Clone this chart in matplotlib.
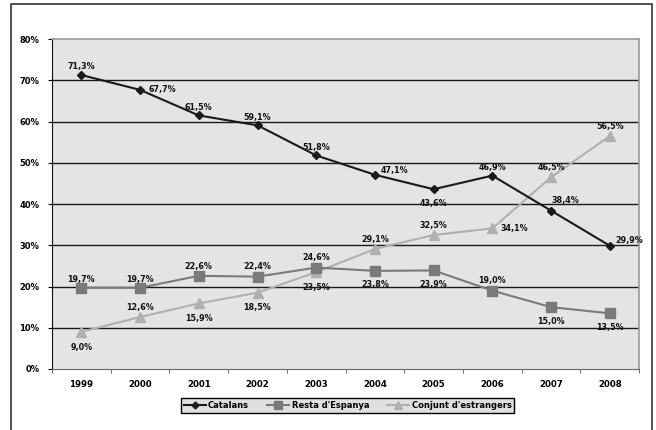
import matplotlib.pyplot as plt
from matplotlib.lines import Line2D

years = ['1999', '2000', '2001', '2002', '2003', '2004', '2005', '2006', '2007', '2008']
catalans = [71.3, 67.7, 61.5, 59.1, 51.8, 47.1, 43.6, 46.9, 38.4, 29.9]
resta = [19.7, 19.7, 22.6, 22.4, 24.6, 23.8, 23.9, 19.0, 15.0, 13.5]
estrangers = [9.0, 12.6, 15.9, 18.5, 23.5, 29.1, 32.5, 34.1, 46.5, 56.5]

# where each label goes relative to its point (points)
pos_cat = [(0, 6), (16, 0), (0, 6), (0, 6), (0, 6), (14, 3), (0, -10), (0, 6), (10, 7), (14, 4)]
pos_res = [(0, 6), (0, 6), (0, 7), (0, 7), (0, 7), (0, -10), (0, -10), (0, 7), (0, -10), (0, -10)]
pos_est = [(0, -11), (0, 7), (0, -11), (0, -11), (0, -11), (0, 7), (0, 7), (16, 0), (0, 7), (0, 7)]

plt.rcParams['font.family'] = 'DejaVu Sans'
plt.rcParams['font.weight'] = 'bold'

fig = plt.figure(figsize=(6.56, 4.30), dpi=100)
ax = fig.add_axes([0.0793, 0.1419, 0.895, 0.767])
ax.set_facecolor('#e4e4e4')

x = range(len(years))
ax.plot(x, catalans, color='#1a1a1a', lw=1.5, marker='D', ms=4, zorder=5)
ax.plot(x, resta, color='#7a7a7a', lw=1.5, marker='s', ms=7, zorder=4)
ax.plot(x, estrangers, color='#b0b0b0', lw=1.5, marker='^', ms=6.5, zorder=3)

def label_series(vals, offs):
    for i, (v, o) in enumerate(zip(vals, offs)):
        ax.annotate(f'{v:.1f}%'.replace('.', ','), (i, v), xytext=o,
                    textcoords='offset points', ha='center', va='center',
                    fontsize=5.8, fontweight='bold', color='#111111', zorder=6)

label_series(catalans, pos_cat)
label_series(resta, pos_res)
label_series(estrangers, pos_est)

ax.set_xlim(-0.5, 9.5)
ax.set_ylim(0, 80)
ax.set_yticks(range(0, 81, 10))
ax.set_yticklabels([f'{v}%' for v in range(0, 81, 10)], fontsize=6, fontweight='bold')
ax.set_xticks(x)
ax.set_xticklabels(years, fontsize=6.2, fontweight='bold')
ax.set_xticks([i - 0.5 for i in range(11)], minor=True)
ax.tick_params(axis='x', which='major', length=0, pad=8)
ax.tick_params(axis='x', which='minor', length=3, color='#555555')
ax.tick_params(axis='y', length=3, pad=6)
for v in range(10, 80, 10):
    ax.axhline(v, color='#1a1a1a', lw=1, zorder=1)

ax.spines['left'].set_color('#111111')
ax.spines['bottom'].set_color('#666666')
ax.spines['top'].set_color('#999999')
ax.spines['right'].set_color('#999999')
ax.spines['top'].set_linewidth(1.2)
ax.spines['right'].set_linewidth(1.2)

handles = [
    Line2D([], [], color='#1a1a1a', lw=1.5, marker='D', ms=3.5),
    Line2D([], [], color='#7a7a7a', lw=1.5, marker='s', ms=6),
    Line2D([], [], color='#b0b0b0', lw=1.5, marker='^', ms=5.5),
]
leg = fig.legend(handles, ['Catalans', "Resta d'Espanya", "Conjunt d'estrangers"],
                 loc='center', bbox_to_anchor=(0.53, 0.057), ncol=3, fontsize=6,
                 frameon=True, fancybox=False, handlelength=2.6, handletextpad=0.3,
                 columnspacing=2.2, borderpad=0.35)
leg.get_frame().set_facecolor('#e0e0e0')
leg.get_frame().set_edgecolor('black')
leg.get_frame().set_linewidth(1)
leg.get_frame().set_alpha(1)

# outer frame (left, top, right)
fx = [11 / 656, 11 / 656, 652 / 656, 652 / 656]
fy = [0, 1 - 4 / 430, 1 - 4 / 430, 0]
fig.add_artist(Line2D(fx, fy, transform=fig.transFigure, color='#333333', lw=1.2))

fig.savefig('out.png', dpi=100)
